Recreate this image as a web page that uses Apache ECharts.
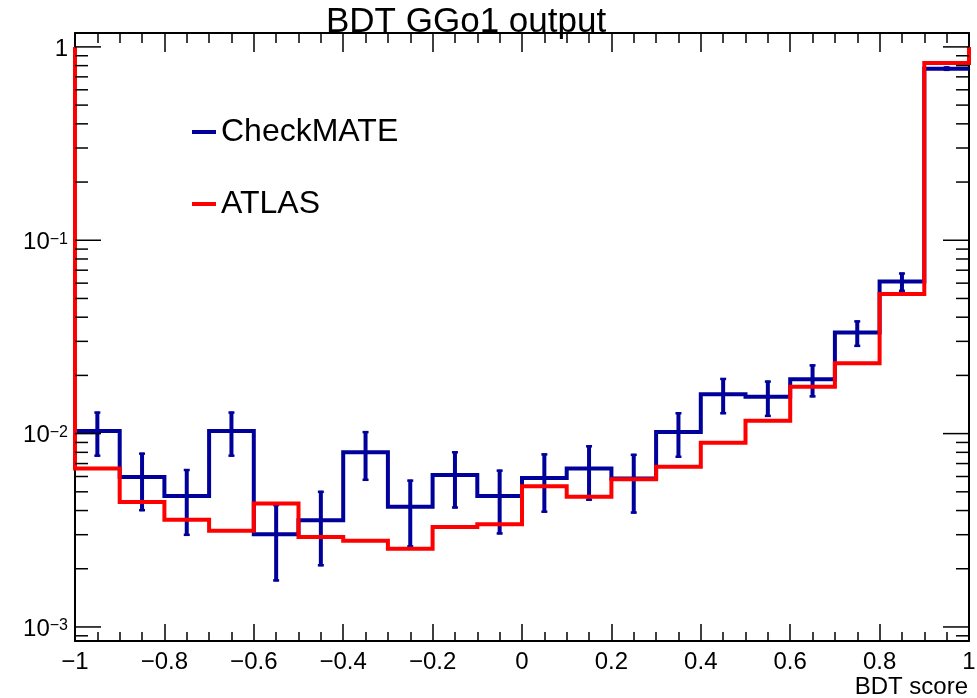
<!DOCTYPE html>
<html><head><meta charset="utf-8">
<script src="https://cdn.jsdelivr.net/npm/echarts@6/dist/echarts.min.js"></script>
<style>html,body{margin:0;padding:0;background:#fff}#c{width:977px;height:698px}</style>
</head><body><div id="c"></div>
<script>
// ---- data ----
const binEdges = [-1,-0.9,-0.8,-0.7,-0.6,-0.5,-0.4,-0.3,-0.2,-0.1,0,0.1,0.2,0.3,0.4,0.5,0.6,0.7,0.8,0.9,1];
const checkmate = [0.0103,0.00597,0.00476,0.0103,0.00302,0.00356,0.0080,0.00418,0.0061,0.00476,
                   0.0059,0.0066,0.00586,0.0102,0.0160,0.0155,0.0191,0.0333,0.0611,0.772];
const checkmateErr = [0.0027,0.0020,0.0018,0.0027,0.0013,0.0015,0.0023,0.0016,0.0020,0.00175,
                      0.0020,0.0021,0.0020,0.0027,0.0034,0.0033,0.0037,0.0052,0.0070,0.02];
const atlas = [0.0066,0.00443,0.00359,0.00314,0.00435,0.00292,0.00279,0.00254,0.00329,0.0034,
               0.00535,0.00471,0.0058,0.00673,0.00896,0.01164,0.01747,0.0231,0.0528,0.826];
const atlasOutlineEnds = 1;           // ATLAS outline starts and ends at this level
const yMajorTicks = [0.001,0.01,0.1,1];
const yMinorTicks = [0.0009,0.002,0.003,0.004,0.005,0.006,0.007,0.008,0.009,
                     0.02,0.03,0.04,0.05,0.06,0.07,0.08,0.09,
                     0.2,0.3,0.4,0.5,0.6,0.7,0.8,0.9];
const yRange = [0.000846, 1.18];
const seriesNames = ['CheckMATE','ATLAS'];
const titleText = 'BDT GGo1 output';
const xTitle = 'BDT score';

// ---- build ----
const FONT = 'Liberation Sans';
const BLUE = '#00009a', RED = '#ff0000';
const xMin = binEdges[0], xMax = binEdges[binEdges.length-1];

function stepPoints(vals){
  const pts = [];
  vals.forEach((v,i)=>{ pts.push([binEdges[i], v]); pts.push([binEdges[i+1], v]); });
  return pts;
}
const bluePts = stepPoints(checkmate);
const redPts = [[xMin, atlasOutlineEnds]].concat(stepPoints(atlas), [[xMax, atlasOutlineEnds]]);
const errData = checkmate.map((v,i)=>[(binEdges[i]+binEdges[i+1])/2, v, checkmateErr[i]]);
const yTickData = yMajorTicks.map(v=>[xMin, v, 1]).concat(yMinorTicks.map(v=>[xMin, v, 0]));

function yLabel(v){
  const e = Math.log10(v);
  const r = Math.round(e);
  if (Math.abs(e - r) > 1e-6) return '';
  if (r === 0) return '{b|1}';
  return '{b|10}{s|\u2212' + (-r) + '}';
}
function xLabel(v){
  const r = Math.round(v*10)/10;
  if (r < 0) return '\u2212' + String(-r);
  return String(r);
}

const chart = echarts.init(document.getElementById('c'), null, {renderer:'canvas'});
const axisLineStyle = {color:'#000', width:2};
chart.setOption({
  animation:false,
  backgroundColor:'#fff',
  title:{text:titleText, left:326, top:5, padding:0,
    textStyle:{fontFamily:FONT, fontSize:35, fontWeight:'normal', color:'#000'}},
  legend:{data:seriesNames, left:192, top:116, padding:0, orient:'vertical', itemGap:40,
    icon:'rect', itemWidth:24, itemHeight:4,
    textStyle:{fontFamily:FONT, fontSize:32, color:'#000', lineHeight:32}},
  grid:{left:75, right:8, top:33, bottom:57, outerBoundsMode:'none', containLabel:false},
  xAxis:[{
    type:'value', min:xMin, max:xMax, interval:0.2, position:'bottom',
    axisLine:{show:true, onZero:false, lineStyle:axisLineStyle},
    axisTick:{show:true, inside:true, length:17, lineStyle:{color:'#000', width:1.5}},
    minorTick:{show:true, splitNumber:4, length:9, lineStyle:{color:'#000', width:1.5}},
    splitLine:{show:false},
    axisLabel:{show:true, formatter:xLabel, fontFamily:FONT, fontSize:24, color:'#000', margin:9,
      showMinLabel:true, showMaxLabel:true}
  },{
    type:'value', min:xMin, max:xMax, interval:0.2, position:'top',
    axisLine:{show:true, onZero:false, lineStyle:axisLineStyle},
    axisTick:{show:true, inside:true, length:19, lineStyle:{color:'#000', width:1.5}},
    minorTick:{show:true, splitNumber:4, length:10, lineStyle:{color:'#000', width:1.5}},
    splitLine:{show:false}, axisLabel:{show:false}
  }],
  yAxis:[{
    type:'log', logBase:10, min:yRange[0], max:yRange[1], position:'left',
    axisLine:{show:true, onZero:false, lineStyle:axisLineStyle},
    axisTick:{show:false}, splitLine:{show:false}, minorTick:{show:false},
    axisLabel:{show:true, formatter:yLabel, margin:7, color:'#000', fontFamily:FONT, padding:[5,0,0,0],
      rich:{
        b:{fontFamily:FONT, fontSize:24, lineHeight:23, color:'#000', verticalAlign:'bottom', padding:[4,0,0,0]},
        s:{fontFamily:FONT, fontSize:16, lineHeight:16, color:'#000', verticalAlign:'top'}
      }}
  },{
    type:'log', logBase:10, min:yRange[0], max:yRange[1], position:'right',
    axisLine:{show:true, onZero:false, lineStyle:axisLineStyle},
    axisTick:{show:false}, splitLine:{show:false}, axisLabel:{show:false}
  }],
  graphic:[{type:'text', right:9, top:675,
    style:{text:xTitle, fontFamily:FONT, fontSize:24, fill:'#000'}}],
  series:[
    {name:seriesNames[0], type:'line', data:bluePts, xAxisIndex:0, yAxisIndex:0, symbol:'none', clip:false,
      color:BLUE, lineStyle:{color:BLUE, width:4, join:'miter', cap:'butt'}, z:3},
    {type:'custom', data:errData, xAxisIndex:0, yAxisIndex:0, encode:{x:0, y:1}, clip:false, z:3,
      renderItem:function(params, api){
        const c = api.value(0), v = api.value(1), e = api.value(2);
        const top = api.coord([c, v+e]), bot = api.coord([c, v-e]);
        const st = {stroke:BLUE, lineWidth:4};
        const cs = {stroke:BLUE, lineWidth:2.5};
        return {type:'group', children:[
          {type:'line', shape:{x1:top[0], y1:top[1], x2:bot[0], y2:bot[1]}, style:st},
          {type:'line', shape:{x1:top[0]-3, y1:top[1]+1, x2:top[0]+3, y2:top[1]+1}, style:cs},
          {type:'line', shape:{x1:bot[0]-3, y1:bot[1]-1, x2:bot[0]+3, y2:bot[1]-1}, style:cs}
        ]};
      }},
    {name:seriesNames[1], type:'line', data:redPts, xAxisIndex:0, yAxisIndex:0, symbol:'none', clip:false,
      color:RED, lineStyle:{color:RED, width:4, join:'miter', cap:'butt'}, z:4},
    {type:'custom', data:yTickData, xAxisIndex:0, yAxisIndex:0, encode:{x:0, y:1}, clip:false, z:5, silent:true,
      renderItem:function(params, api){
        const v = api.value(1), major = api.value(2);
        const pL = api.coord([xMin, v]), pR = api.coord([xMax, v]);
        const len = major ? 26 : 13;
        const st = {stroke:'#000', lineWidth:1.5};
        return {type:'group', children:[
          {type:'line', shape:{x1:pL[0], y1:pL[1], x2:pL[0]+len, y2:pL[1]}, style:st},
          {type:'line', shape:{x1:pR[0], y1:pR[1], x2:pR[0]-len, y2:pR[1]}, style:st}
        ]};
      }}
  ]
});
</script></body></html>
